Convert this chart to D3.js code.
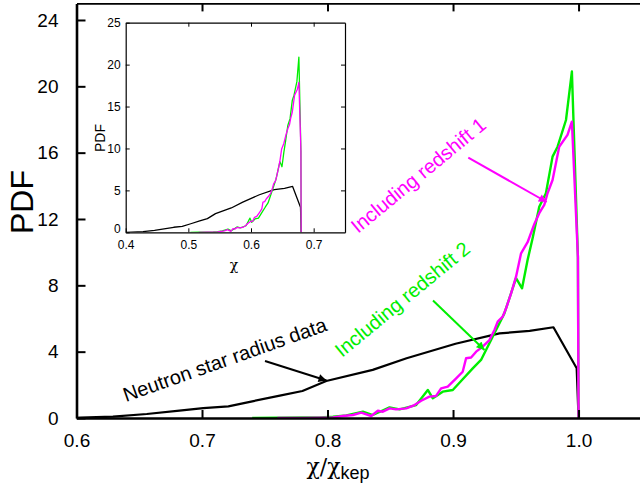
<!DOCTYPE html>
<html>
<head>
<meta charset="utf-8">
<script src="https://cdn.jsdelivr.net/npm/d3@7"></script>
<style>
  html, body { margin: 0; padding: 0; background: #fff; }
  svg { display: block; }
  text { font-family: "Liberation Sans", Arial, sans-serif; }
  .narrow { font-family: "Liberation Sans Narrow", "Liberation Sans", Arial, sans-serif; }
  .greek { font-family: "DejaVu Serif", "Liberation Serif", serif; }
</style>
</head>
<body>
<script>
// Spin distributions, x = chi / chi_kep
const chiKep = 0.68;

const radiusX = [0.588, 0.603, 0.629, 0.656, 0.682, 0.701, 0.721, 0.741, 0.762, 0.780, 0.799, 0.836, 0.863, 0.902, 0.937, 0.961, 0.980, 0.9985, 1.0];
const radiusY = [0.0, 0.02, 0.08, 0.24, 0.44, 0.60, 0.70, 1.02, 1.35, 1.63, 2.23, 2.90, 3.60, 4.48, 5.10, 5.25, 5.47, 3.0, 0.0];

const red2X = [0.74, 0.76, 0.78, 0.7937, 0.8043, 0.815, 0.8282, 0.8361, 0.8494, 0.8574, 0.8706, 0.8799, 0.8839, 0.8918, 0.8998, 0.9077, 0.9157, 0.9223, 0.9316, 0.9409, 0.9462, 0.9502, 0.955, 0.9594, 0.9634, 0.9687, 0.974, 0.9793, 0.9833, 0.99, 0.9947, 0.9995, 1.0];
const red2Y = [0.0, 0.02, 0.03, 0.04, 0.08, 0.16, 0.38, 0.18, 0.64, 0.52, 0.78, 1.69, 1.19, 1.59, 1.69, 2.34, 2.99, 3.5, 4.9, 6.31, 7.52, 8.43, 7.82, 9.53, 10.84, 12.74, 13.55, 15.76, 16.36, 17.97, 20.89, 9.7, 0.0];

const red1X = [0.76, 0.78, 0.795, 0.8043, 0.8123, 0.8202, 0.8269, 0.8348, 0.8401, 0.8441, 0.8494, 0.8547, 0.8627, 0.8693, 0.8746, 0.8812, 0.8865, 0.8905, 0.8958, 0.9025, 0.9077, 0.9104, 0.9144, 0.9184, 0.9236, 0.929, 0.933, 0.9356, 0.9396, 0.9422, 0.9462, 0.9502, 0.9542, 0.9594, 0.9648, 0.9687, 0.9727, 0.9753, 0.9793, 0.9846, 0.9912, 0.9947, 0.9995, 1.0];
const red1Y = [0.0, 0.01, 0.02, 0.04, 0.12, 0.18, 0.32, 0.12, 0.44, 0.38, 0.58, 0.52, 0.58, 0.78, 1.04, 1.29, 1.33, 1.79, 1.89, 2.39, 2.79, 3.6, 3.65, 4.0, 4.3, 4.7, 5.31, 5.81, 6.11, 6.6, 7.5, 8.52, 9.93, 10.6, 11.7, 12.35, 12.85, 13.55, 14.35, 16.36, 17.07, 17.87, 9.7, 0.0];

const mainXTicks = [0.6, 0.7, 0.8, 0.9, 1.0];
const mainYTicks = [0, 4, 8, 12, 16, 20, 24];
const insetXTicks = [0.4, 0.5, 0.6, 0.7];
const insetYTicks = [0, 5, 10, 15, 20, 25];

const W = 640, H = 491;
const svg = d3.select("body").append("svg").attr("width", W).attr("height", H);

const zip = (xs, ys, k = 1) => xs.map((x, i) => [x * k, ys[i]]);
const series = [
  { xs: radiusX, ys: radiusY, color: "#000000", w: 2.2 },
  { xs: red2X, ys: red2Y, color: "#00ee00", w: 2.4 },
  { xs: red1X, ys: red1Y, color: "#ff00ff", w: 2.4 }
];

// ---------- main panel ----------
const x = d3.scaleLinear().domain([0.6, 1.05]).range([76.5, 641.3]);
const y = d3.scaleLinear().domain([0, 25]).range([418, 3.4]);

svg.append("clipPath").attr("id", "mainClip")
  .append("rect").attr("x", x(0.6)).attr("y", y(25)).attr("width", x(1.05) - x(0.6)).attr("height", y(0) - y(25));

const line = d3.line().x(d => x(d[0])).y(d => y(d[1]));
const plot = svg.append("g").attr("clip-path", "url(#mainClip)");
series.forEach(s => {
  plot.append("path").attr("d", line(zip(s.xs, s.ys)))
    .attr("fill", "none").attr("stroke", s.color).attr("stroke-width", s.w)
    .attr("stroke-linejoin", "round");
});

// axes (ticks point inward)
const gB = svg.append("g").attr("transform", `translate(0,${y(0)})`)
  .call(d3.axisBottom(x).tickValues(mainXTicks).tickSizeInner(-8).tickSizeOuter(0).tickPadding(16).tickFormat(d3.format(".1f")));
const gT = svg.append("g").attr("transform", `translate(0,${y(25)})`)
  .call(d3.axisTop(x).tickValues(mainXTicks.slice(1)).tickSizeInner(-8).tickSizeOuter(0).tickFormat(""));
const gL = svg.append("g").attr("transform", `translate(${x(0.6)},0)`)
  .call(d3.axisLeft(y).tickValues(mainYTicks).tickSizeInner(-9).tickSizeOuter(0).tickPadding(18).tickFormat(d3.format("d")));

[gB, gL].forEach(g => {
  g.select(".domain").attr("stroke", "#000").attr("stroke-width", 2.6);
  g.selectAll(".tick line").attr("stroke", "#000").attr("stroke-width", 2);
  g.selectAll(".tick text").attr("font-size", 19).attr("fill", "#000")
    .style("font-family", '"Liberation Sans", Arial, sans-serif');
});
gT.select(".domain").attr("stroke", "#000").attr("stroke-width", 1.8);
gT.selectAll(".tick line").attr("stroke", "#000").attr("stroke-width", 2);

// axis titles
svg.append("text").attr("transform", `translate(33,202) rotate(-90)`)
  .attr("text-anchor", "middle").attr("font-size", 32).text("PDF");

const xt = svg.append("text").attr("x", 338).attr("y", 474).attr("text-anchor", "middle");
xt.append("tspan").attr("class", "greek").attr("font-size", 22).text("χ/χ");
xt.append("tspan").attr("font-size", 18).attr("dy", 5).text("kep");

// ---------- annotations ----------
const defs = svg.append("defs");
[["arrBlack", "#000"], ["arrGreen", "#00ee00"], ["arrMag", "#ff00ff"]].forEach(([id, c]) => {
  defs.append("marker").attr("id", id).attr("viewBox", "0 0 10 10")
    .attr("refX", 10).attr("refY", 5).attr("markerWidth", 12).attr("markerHeight", 8)
    .attr("markerUnits", "userSpaceOnUse").attr("orient", "auto")
    .append("path").attr("d", "M0,0 L10,5 L0,10 z").attr("fill", c);
});

const notes = [
  { text: "Neutron star radius data", color: "#000", tx: 126, ty: 402, rot: -19.5, a: [265, 361, 326.5, 380.5], m: "arrBlack" },
  { text: "Including redshift 2", color: "#00ee00", tx: 342, ty: 358, rot: -39.5, a: [433, 300.5, 484.5, 350], m: "arrGreen" },
  { text: "Including redshift 1", color: "#ff00ff", tx: 358, ty: 234, rot: -39.5, a: [468.3, 157.7, 546.7, 202], m: "arrMag" }
];
notes.forEach(n => {
  svg.append("text").attr("transform", `translate(${n.tx},${n.ty}) rotate(${n.rot})`)
    .attr("font-size", 20).attr("fill", n.color).text(n.text);
  svg.append("line").attr("x1", n.a[0]).attr("y1", n.a[1]).attr("x2", n.a[2]).attr("y2", n.a[3])
    .attr("stroke", n.color).attr("stroke-width", 2).attr("marker-end", `url(#${n.m})`);
});

// ---------- inset: unnormalised spin chi ----------
const ix = d3.scaleLinear().domain([0.4, 0.75]).range([125.7, 345]);
const iy = d3.scaleLinear().domain([0, 25]).range([232.3, 22.7]);

const inset = svg.append("g");
inset.append("rect").attr("x", ix(0.4)).attr("y", iy(25)).attr("width", ix(0.75) - ix(0.4)).attr("height", iy(0) - iy(25))
  .attr("fill", "#fff");

svg.append("clipPath").attr("id", "insetClip")
  .append("rect").attr("x", ix(0.4)).attr("y", iy(25)).attr("width", ix(0.75) - ix(0.4)).attr("height", iy(0) - iy(25));

const iline = d3.line().x(d => ix(d[0])).y(d => iy(d[1]));
const iplot = inset.append("g").attr("clip-path", "url(#insetClip)");
series.forEach(s => {
  iplot.append("path").attr("d", iline(zip(s.xs, s.ys, chiKep)))
    .attr("fill", "none").attr("stroke", s.color).attr("stroke-width", 1.3)
    .attr("stroke-linejoin", "round");
});

const iB = inset.append("g").attr("transform", `translate(0,${iy(0)})`)
  .call(d3.axisBottom(ix).tickValues(insetXTicks).tickSizeInner(-4).tickSizeOuter(0).tickPadding(8).tickFormat(d3.format(".1f")));
const iT = inset.append("g").attr("transform", `translate(0,${iy(25)})`)
  .call(d3.axisTop(ix).tickValues(insetXTicks.slice(1)).tickSizeInner(-4).tickSizeOuter(0).tickFormat(""));
const iL = inset.append("g").attr("transform", `translate(${ix(0.4)},0)`)
  .call(d3.axisLeft(iy).tickValues(insetYTicks).tickSizeInner(-4).tickSizeOuter(0).tickPadding(5).tickFormat(d3.format("d")));
const iR = inset.append("g").attr("transform", `translate(${ix(0.75)},0)`)
  .call(d3.axisRight(iy).tickValues(insetYTicks.slice(1, -1)).tickSizeInner(-4).tickSizeOuter(0).tickFormat(""));
[iB, iT, iL, iR].forEach(g => {
  g.select(".domain").attr("stroke", "#000").attr("stroke-width", 1.2);
  g.selectAll(".tick line").attr("stroke", "#000").attr("stroke-width", 1);
  g.selectAll(".tick text").attr("font-size", 12).attr("fill", "#000").attr("class", "narrow");
});
// lift the zero label a touch so it clears the 0.4 label below it
iL.selectAll(".tick text").filter(d => d === 0).attr("dy", "0.05em");

inset.append("text").attr("class", "narrow").attr("transform", `translate(105,138) rotate(-90)`)
  .attr("text-anchor", "middle").attr("font-size", 14).text("PDF");
inset.append("text").attr("class", "greek").attr("x", 234).attr("y", 270).attr("text-anchor", "middle")
  .attr("font-size", 14).text("χ");
</script>
</body>
</html>
